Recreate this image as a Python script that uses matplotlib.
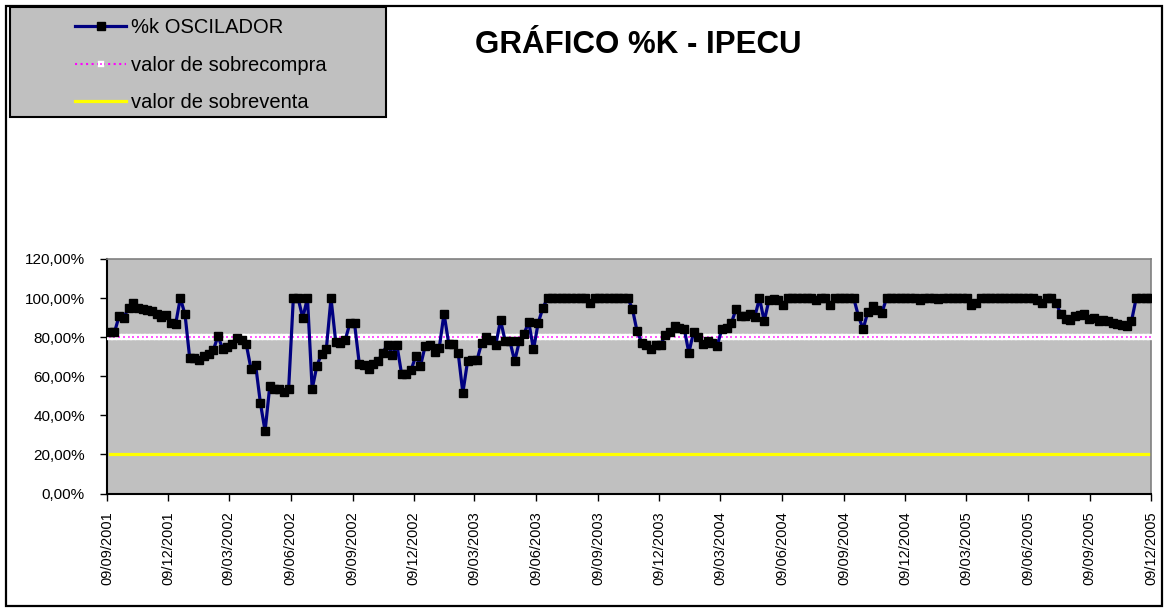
import matplotlib
matplotlib.use('Agg')
import matplotlib.pyplot as plt
import matplotlib.dates as mdates
from matplotlib.patches import Rectangle
from matplotlib.ticker import FuncFormatter, MultipleLocator
import pandas as pd

plt.rcParams['font.family'] = ['Liberation Sans', 'DejaVu Sans']

titulo = 'GRÁFICO %K - IPECU'
fecha_inicio = '2001-09-13'   # cierre semanal (jueves)

# %K semanal, en porcentaje
oscilador_k = [
    82.4, 82.4, 90.7, 89.9, 95.1, 97.5, 95.1, 94.3, 93.8, 93.3,
    91.6, 90.4, 91.2, 87.5, 86.6, 100.0, 91.6, 69.1, 69.1, 68.5,
    70.4, 71.3, 73.3, 80.6, 73.8, 75.0, 76.7, 79.6, 78.4, 76.4,
    63.9, 65.6, 46.4, 31.9, 55.1, 53.7, 53.7, 52.0, 53.4, 100.0,
    100.0, 89.9, 100.0, 53.4, 65.3, 71.6, 73.7, 100.0, 77.6, 77.2,
    78.4, 87.0, 87.0, 66.5, 65.6, 63.9, 66.5, 67.7, 72.1, 76.2,
    71.1, 75.9, 61.0, 61.4, 63.1, 70.4, 65.3, 75.5, 76.2, 72.5,
    74.7, 92.1, 76.7, 76.7, 72.1, 51.5, 67.7, 68.2, 68.2, 77.1,
    80.0, 78.4, 76.2, 88.7, 77.9, 77.9, 67.7, 77.9, 81.8, 87.8,
    73.7, 87.3, 95.0, 100.0, 100.0, 100.0, 100.0, 100.0, 100.0, 100.0,
    100.0, 100.0, 97.5, 100.0, 100.0, 100.0, 100.0, 100.0, 100.0, 100.0,
    100.0, 94.6, 83.0, 77.2, 75.9, 74.2, 75.9, 76.2, 81.0, 82.4,
    85.6, 84.7, 84.4, 72.0, 82.7, 80.0, 76.7, 77.9, 77.2, 75.5,
    84.1, 84.7, 87.0, 94.3, 90.7, 90.7, 91.7, 90.4, 100.0, 88.2,
    98.9, 99.7, 99.2, 96.7, 100.0, 100.0, 100.0, 100.0, 100.0, 100.0,
    99.2, 100.0, 100.0, 96.7, 100.0, 100.0, 100.0, 100.0, 100.0, 90.9,
    84.1, 92.9, 96.0, 93.8, 92.6, 100.0, 100.0, 100.0, 100.0, 100.0,
    100.0, 100.0, 99.0, 100.0, 100.0, 100.0, 99.5, 100.0, 100.0, 100.0,
    100.0, 100.0, 100.0, 96.7, 97.5, 100.0, 100.0, 100.0, 100.0, 100.0,
    100.0, 100.0, 100.0, 100.0, 100.0, 100.0, 100.0, 99.2, 97.5, 100.0,
    100.0, 97.5, 91.6, 89.2, 88.7, 90.9, 91.2, 91.6, 89.5, 89.9,
    88.2, 89.0, 88.2, 87.5, 86.6, 86.1, 85.6, 88.2, 100.0, 100.0,
    100.0, 100.0,
]
nivel_sobrecompra = 80.0
nivel_sobreventa = 20.0

fechas = pd.date_range(fecha_inicio, periods=len(oscilador_k), freq='7D')
fechas_eje = pd.date_range('2001-09-09', '2005-12-09', freq=pd.DateOffset(months=3))

W, H = 1165, 609
fig = plt.figure(figsize=(W / 100, H / 100), dpi=100)
fig.patch.set_facecolor('white')

ax = fig.add_axes([107 / W, 1 - 493.5 / H, (1151 - 107) / W, (493.5 - 259) / H])
ax.set_facecolor('#C0C0C0')

k = [v / 100 for v in oscilador_k]
sobrecompra = [nivel_sobrecompra / 100 for _ in fechas]
sobreventa = [nivel_sobreventa / 100 for _ in fechas]

l_venta, = ax.plot(fechas, sobreventa, color='#FFFF00', lw=2.3, zorder=2,
                   label='valor de sobreventa')
l_compra, = ax.plot(fechas, sobrecompra, color='#FF00FF', lw=1.5, ls=':',
                    marker='s', ms=3.2, mfc='#FF00FF', mec='white', mew=1.7,
                    zorder=3, label='valor de sobrecompra')
l_k, = ax.plot(fechas, k, color='#000080', lw=2.3, marker='s', ms=5.3,
               mfc='black', mec='black', zorder=4, label='%k OSCILADOR')

ax.set_xlim(mdates.date2num(fechas_eje[0]), mdates.date2num(fechas_eje[-1]))
ax.set_ylim(0, 1.2)
ax.yaxis.set_major_locator(MultipleLocator(0.2))
ax.yaxis.set_major_formatter(FuncFormatter(lambda v, p: f'{v * 100:.2f}'.replace('.', ',') + '%'))
ax.set_xticks(mdates.date2num(fechas_eje))
ax.set_xticklabels([f.strftime('%d/%m/%Y') for f in fechas_eje], rotation=90)

ax.tick_params(axis='y', direction='out', length=5, width=1, pad=11, labelsize=11)
ax.tick_params(axis='x', direction='out', length=5, width=1, pad=8, labelsize=10.5)
for s in ['left', 'bottom']:
    ax.spines[s].set_color('black')
    ax.spines[s].set_linewidth(1.5)
for s in ['top', 'right']:
    ax.spines[s].set_color('#808080')
    ax.spines[s].set_linewidth(1.2)

fig.text(638 / W, 1 - 45 / H, titulo, fontsize=22.5, fontweight='bold',
         ha='center', va='center')

# cuadro de leyenda
fig.add_artist(Rectangle((10 / W, 1 - 117 / H), 376 / W, 110 / H,
                         transform=fig.transFigure, facecolor='#C0C0C0',
                         edgecolor='black', lw=1.5, zorder=1))
fig.legend(handles=[l_k, l_compra, l_venta], loc='upper left',
           bbox_to_anchor=(75 / W, 1 - 18 / H), frameon=False, fontsize=14.5,
           handlelength=2.55, handletextpad=0.25, labelspacing=0.93,
           borderpad=0, borderaxespad=0)

# marco del gráfico
fig.add_artist(Rectangle((6 / W, 1 - 606 / H), (1162 - 6) / W, (606 - 6) / H,
                         transform=fig.transFigure, fill=False,
                         edgecolor='black', lw=1.6, zorder=0))

fig.savefig('out.png', dpi=100, facecolor='white')
